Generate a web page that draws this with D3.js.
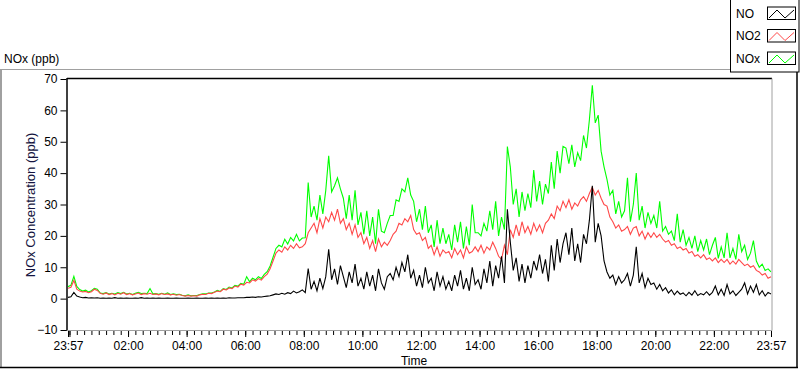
<!DOCTYPE html>
<html><head><meta charset="utf-8">
<script src="https://cdn.jsdelivr.net/npm/d3@7"></script>
<style>
html,body{margin:0;padding:0;background:#fff;}
svg{display:block;font-family:"Liberation Sans",Arial,sans-serif;}
</style></head><body>
<svg id="c" width="800" height="369"></svg>
<script>
// ---- data ----
const startTime = "2020-01-01T23:57:00";
const sampleMinutes = 6;
const no = [
0.4,0.6,2.0,0.8,0.5,0.3,0.4,0.2,0.3,0.2,
0.3,0.1,0.2,0.1,0.2,0.1,0.3,0.1,0.2,0.1,
0.2,0.1,0.1,0.2,0.1,0.3,0.1,0.2,0.1,0.2,
0.1,0.2,0.1,0.1,0.2,0.1,0.1,0.2,0.1,0.1,
0.1,0.2,0.1,0.1,0.2,0.1,0.1,0.2,0.1,0.2,
0.1,0.2,0.1,0.2,0.1,0.3,0.2,0.2,0.3,0.3,
0.3,0.4,0.4,0.5,0.4,0.6,0.5,0.7,0.8,0.9,
1.2,1.5,1.3,1.7,1.4,1.9,1.6,2.4,1.8,2.2,
2.8,1.9,9.6,3.0,5.5,2.5,6.5,3.2,7.0,15.7,
6.0,9.5,4.5,10.5,7.0,3.5,8.5,5.0,11.0,4.0,
6.5,3.0,8.5,4.0,7.5,2.5,9.5,5.0,3.0,7.0,
8.0,6.0,10.0,7.0,11.5,8.5,14.0,6.5,9.0,4.0,
7.5,3.5,10.0,5.0,6.5,2.5,8.5,4.0,7.0,3.0,
5.5,2.5,7.5,4.0,9.0,3.0,6.5,2.5,10.0,4.5,
6.0,3.0,9.5,5.0,12.0,4.0,10.5,6.5,13.5,5.0,
28.5,18.0,9.0,13.0,5.5,11.0,5.0,10.5,6.5,12.0,
9.0,14.0,8.0,12.5,5.5,17.0,9.0,19.0,11.5,17.5,
21.0,14.0,22.5,12.0,17.5,11.5,20.5,17.5,25.0,36.0,
18.0,24.0,20.0,12.0,8.5,6.5,7.5,4.5,7.0,5.0,
6.0,8.0,4.0,7.5,16.5,5.0,8.0,3.5,6.5,4.5,
5.0,3.0,4.5,2.5,3.5,1.8,2.8,1.2,2.4,1.4,
1.8,0.9,2.0,1.1,2.5,1.0,1.6,1.2,2.2,1.1,
2.0,4.0,1.2,3.0,1.0,4.5,1.5,2.5,1.0,2.0,
3.0,5.0,1.5,4.0,2.0,4.5,1.2,2.5,0.8,2.0,1.5];
const no2 = [
3.3,3.6,5.8,3.0,2.4,2.1,2.3,1.9,2.2,3.0,
2.6,1.7,1.4,1.8,1.3,1.6,1.2,1.7,1.4,1.9,
1.3,1.6,1.2,1.5,1.8,1.3,1.6,1.4,1.7,1.3,
1.5,1.2,1.6,1.3,1.5,1.2,1.4,1.1,1.3,1.0,
0.8,1.0,0.8,0.9,0.8,1.2,1.4,1.3,1.7,1.6,
2.0,2.4,2.2,3.0,2.8,3.4,3.2,4.0,3.7,4.6,
4.3,5.2,5.0,6.0,5.6,6.4,5.9,7.0,7.8,9.5,
12.0,14.5,15.5,14.8,16.5,15.5,17.0,16.0,17.5,16.2,
16.5,17.5,21.0,22.5,24.0,21.0,25.5,22.5,26.0,24.5,
27.5,25.0,28.5,24.0,25.5,22.0,24.0,20.5,23.5,19.5,
21.0,17.5,19.5,16.0,18.5,15.0,19.0,16.5,18.0,17.0,
18.5,20.5,21.5,24.0,23.5,25.5,24.5,26.5,22.0,20.5,
21.0,18.5,19.5,16.0,17.0,14.0,16.5,13.5,15.5,14.5,
15.0,13.0,16.0,14.0,15.5,13.0,16.5,14.5,15.0,16.5,
15.0,17.0,14.5,16.5,15.5,18.0,16.0,13.5,12.5,17.0,
14.0,22.0,19.5,23.5,20.0,24.5,21.0,23.0,20.5,24.0,
21.5,23.5,21.0,24.0,25.0,27.0,25.5,29.5,28.0,31.0,
29.0,31.5,28.5,30.5,29.5,31.5,32.5,31.0,33.5,35.5,
33.0,34.5,32.0,30.0,29.5,26.0,24.5,22.5,23.5,21.5,
22.0,23.0,20.5,22.5,23.0,20.0,21.5,19.0,21.0,19.5,
21.0,19.5,20.5,19.0,18.0,18.5,17.0,17.5,16.0,16.5,
15.5,16.0,14.5,15.0,13.5,14.0,13.0,14.0,12.5,13.0,
12.0,13.0,11.5,12.5,11.5,12.5,11.0,12.0,11.0,12.5,
11.5,10.5,11.0,10.0,10.5,9.0,8.5,7.5,8.0,6.5,7.0];
const nox = [
3.8,4.3,7.1,3.9,2.9,2.4,2.7,2.1,2.5,3.3,
3.0,1.8,1.6,1.9,1.5,1.7,1.5,1.9,1.6,2.0,
1.5,1.7,1.3,1.7,2.0,1.6,1.7,1.6,3.2,1.5,
1.6,1.4,1.7,1.4,1.8,1.3,1.5,1.3,1.4,1.1,
0.9,1.2,0.9,1.0,1.0,1.3,1.5,1.5,1.8,1.8,
2.1,2.6,2.3,3.2,2.9,3.7,3.4,4.2,4.0,4.9,
4.6,7.0,5.4,6.5,6.0,7.0,6.4,7.7,8.6,10.4,
13.2,16.0,17.0,16.5,18.9,17.4,19.5,18.4,20.5,18.4,
19.3,19.4,37.0,26.0,29.5,25.0,33.0,27.0,34.5,45.5,
34.0,36.0,38.5,35.0,32.0,25.5,33.0,25.0,34.5,23.5,
27.5,20.5,28.0,20.0,26.0,17.5,28.5,21.5,21.0,24.0,
26.5,26.5,31.5,31.0,35.0,34.0,38.5,33.0,31.0,24.5,
28.5,22.0,29.5,21.0,23.5,16.5,25.0,17.5,22.5,17.5,
20.5,15.5,23.5,18.0,24.5,16.0,23.0,17.0,30.0,21.0,
21.0,20.0,24.0,21.5,28.0,22.0,31.0,20.0,26.0,22.0,
48.5,42.0,30.0,35.0,26.0,34.0,28.0,33.5,29.0,41.0,
31.0,37.5,30.0,36.5,33.5,43.5,35.0,47.0,40.0,48.5,
48.0,43.0,49.0,42.0,46.5,44.0,52.0,48.0,57.0,68.0,
56.0,58.5,47.0,42.0,38.0,33.0,34.5,27.0,31.0,26.0,
28.0,38.5,24.5,30.0,40.0,25.0,29.5,22.5,27.5,24.0,
26.5,22.5,31.0,21.5,23.0,20.5,21.5,18.5,27.0,18.0,
22.0,17.0,19.5,16.0,20.0,15.0,18.5,15.5,19.0,14.0,
17.0,19.5,12.8,16.5,13.0,21.0,13.0,16.0,12.5,20.5,
15.0,17.0,12.5,14.5,18.5,12.0,10.0,11.0,9.0,9.5,8.5];
const seriesNames = ["NO","NO2","NOx"];
const seriesColors = ["#000000","#ff4848","#00ff00"];
const yTicks = [-10,0,10,20,30,40,50,60,70];
const xTickLabels = ["23:57","02:00","04:00","06:00","08:00","10:00","12:00","14:00","16:00","18:00","20:00","22:00","23:57"];
const yTitle = "NOx Concentration (ppb)";
const xTitle = "Time";
const chartLabel = "NOx (ppb)";

// ---- layout ----
const svg = d3.select("#c");
const L = 67, R = 772, T = 78.5, B = 330.5;
const t0 = new Date(startTime);
const t1 = d3.timeMinute.offset(t0, 24*60);
const times = no.map((_, i) => d3.timeMinute.offset(t0, i*sampleMinutes));
const x = d3.scaleTime().domain([t0, t1]).range([68, 771]);
const y = d3.scaleLinear().domain([-10, 70]).range([330, 79]);

// outer frame
svg.append("rect").attr("x",0).attr("y",69).attr("width",2).attr("height",299).attr("fill","#a0a0a0");
svg.append("line").attr("x1",0).attr("x2",730).attr("y1",69.5).attr("y2",69.5).attr("stroke","#a0a0a0");
svg.append("line").attr("x1",0).attr("x2",798).attr("y1",367.5).attr("y2",367.5).attr("stroke","#000").attr("stroke-width",1.5);
svg.append("line").attr("x1",797).attr("x2",797).attr("y1",72).attr("y2",368).attr("stroke","#000").attr("stroke-width",1.5);

// chart label
svg.append("text").attr("x",4).attr("y",63).attr("font-size",12).attr("fill","#000").text(chartLabel);

// plot frame
svg.append("rect").attr("x",L).attr("y",T).attr("width",R-L).attr("height",B-T).attr("fill","#fff");
svg.append("clipPath").attr("id","clip").append("rect").attr("x",L+1).attr("y",T+0.5).attr("width",R-L-1.5).attr("height",B-T-1);

const line = d3.line().x((d,i)=>x(times[i])).y(d=>y(d)).curve(d3.curveLinear);
const g = svg.append("g").attr("clip-path","url(#clip)");
[[nox,2],[no2,1],[no,0]].forEach(([arr,k])=>{
  g.append("path").datum(arr).attr("d",line).attr("fill","none")
   .attr("stroke",seriesColors[k]).attr("stroke-width",1.1).attr("stroke-linejoin","miter");
});

svg.append("line").attr("x1",L).attr("x2",R).attr("y1",T).attr("y2",T).attr("stroke","#000").attr("stroke-width",1.5);
svg.append("line").attr("x1",L).attr("x2",L).attr("y1",T-0.5).attr("y2",B+0.5).attr("stroke","#000").attr("stroke-width",1.5);
svg.append("line").attr("x1",R).attr("x2",R).attr("y1",T).attr("y2",B).attr("stroke","#a0a0a0");
svg.append("line").attr("x1",L).attr("x2",R).attr("y1",B).attr("y2",B).attr("stroke","#a0a0a0");

// y axis
const yAx = svg.append("g").attr("transform",`translate(${L-0.5},0)`)
  .call(d3.axisLeft(y).tickValues(yTicks).tickSize(6).tickPadding(3).tickFormat(d3.format("d")));
yAx.select(".domain").remove();
yAx.selectAll("text").attr("font-size",12).attr("font-family","Liberation Sans, Arial, sans-serif").attr("fill","#000");
yAx.selectAll("line").attr("stroke","#000");

// x axis
const majorTimes = xTickLabels.map((s,i)=>{
  if(i===0) return t0;
  if(i===xTickLabels.length-1) return t1;
  const [h,m] = s.split(":").map(Number);
  return new Date(2020,0,2,h,m);
});
const minorTimes = d3.timeMinute.every(15).range(new Date(2020,0,2,0,0), t1);
const xMinor = svg.append("g").attr("transform",`translate(0,${B+0.5})`)
  .call(d3.axisBottom(x).tickValues(minorTimes).tickSize(4).tickFormat(""));
xMinor.select(".domain").remove();
xMinor.selectAll("line").attr("stroke","#000");
const xMajor = svg.append("g").attr("transform",`translate(0,${B+0.5})`)
  .call(d3.axisBottom(x).tickValues(majorTimes.concat([new Date(2020,0,2,0,0)])).tickSize(6).tickPadding(4)
    .tickFormat((d,i)=> i < xTickLabels.length ? xTickLabels[i] : ""));
xMajor.select(".domain").remove();
xMajor.selectAll("text").attr("font-size",12).attr("font-family","Liberation Sans, Arial, sans-serif").attr("fill","#000");
xMajor.selectAll("line").attr("stroke","#000");

// titles
svg.append("text").attr("x",414).attr("y",365).attr("text-anchor","middle").attr("font-size",12).attr("fill","#000").text(xTitle);
svg.append("text").attr("transform","translate(35,205) rotate(-90)").attr("text-anchor","middle")
  .attr("font-size",13).attr("fill","#141440").text(yTitle);

// legend
const lg = svg.append("g");
lg.append("rect").attr("x",730.5).attr("y",-1).attr("width",68.5).attr("height",73).attr("fill","#fff").attr("stroke","#000");
const rowY = [13.5, 36, 58.5];
seriesNames.forEach((n,k)=>{
  const cy = rowY[k];
  lg.append("text").attr("x",736).attr("y",cy).attr("dy","0.35em").attr("font-size",12).attr("fill","#000").text(n);
  lg.append("rect").attr("x",767.5).attr("y",cy-6.5).attr("width",28).attr("height",12.5).attr("fill","#fff").attr("stroke","#000");
  lg.append("path").attr("d",`M769,${cy+4.5}L777,${cy-3.5}L785,${cy+4.5}L794,${cy-3.5}`)
    .attr("fill","none").attr("stroke",seriesColors[k]).attr("stroke-width",1);
});
</script>
</body></html>
